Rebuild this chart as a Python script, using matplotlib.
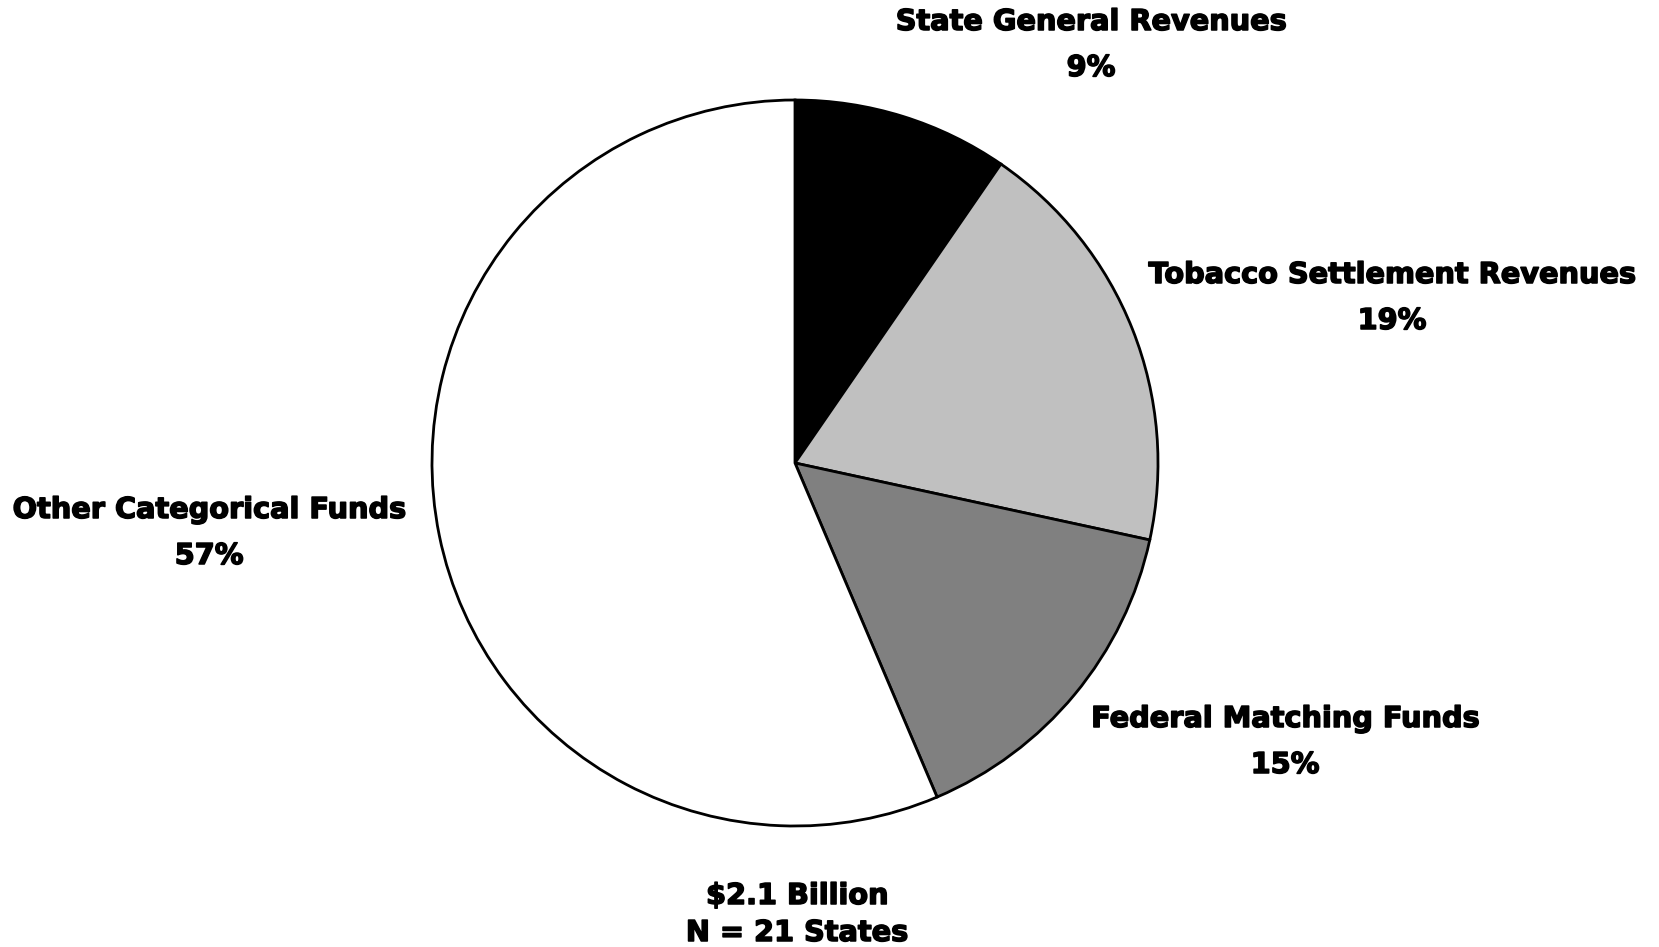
import matplotlib
matplotlib.use("Agg")
import matplotlib.pyplot as plt
import matplotlib.patheffects as pe

# slice shares (clockwise from 12 o'clock)
names = ["State General Revenues", "Tobacco Settlement Revenues",
         "Federal Matching Funds", "Other Categorical Funds"]
shares = [9.6, 18.8, 15.2, 56.4]
pct_labels = ["9%", "19%", "15%", "57%"]
colors = ["#000000", "#c0c0c0", "#808080", "#ffffff"]

# label centres in image pixels (x, y of first line)
label_pos = [(1091, 22), (1392, 275), (1285, 719), (209, 510)]
line_gap = 46

W, H = 1659, 947
fig = plt.figure(figsize=(W / 100, H / 100), dpi=100)
ax = fig.add_axes([0, 0, 1, 1])

ax.pie(shares, colors=colors, startangle=90, counterclock=False,
       center=(795, H - 463), radius=363, frame=True,
       wedgeprops=dict(edgecolor="black", linewidth=2))
ax.set_xlim(0, W)
ax.set_ylim(0, H)
ax.set_aspect("equal")
ax.axis("off")

# heavier look, closer to the black sans in the original
heavy = [pe.withStroke(linewidth=1.1, foreground="black")]
font = dict(family="DejaVu Sans", weight="bold", size=20.7, color="black",
            ha="center", va="center", path_effects=heavy)
for name, pct, (x, y) in zip(names, pct_labels, label_pos):
    ax.text(x, H - y, name, **font)
    ax.text(x, H - y - line_gap, pct, **font)

ax.text(797, H - 896, "$2.1 Billion", **font)
ax.text(797, H - 933, "N = 21 States", **font)

fig.savefig("out.png", dpi=100, facecolor="white")
